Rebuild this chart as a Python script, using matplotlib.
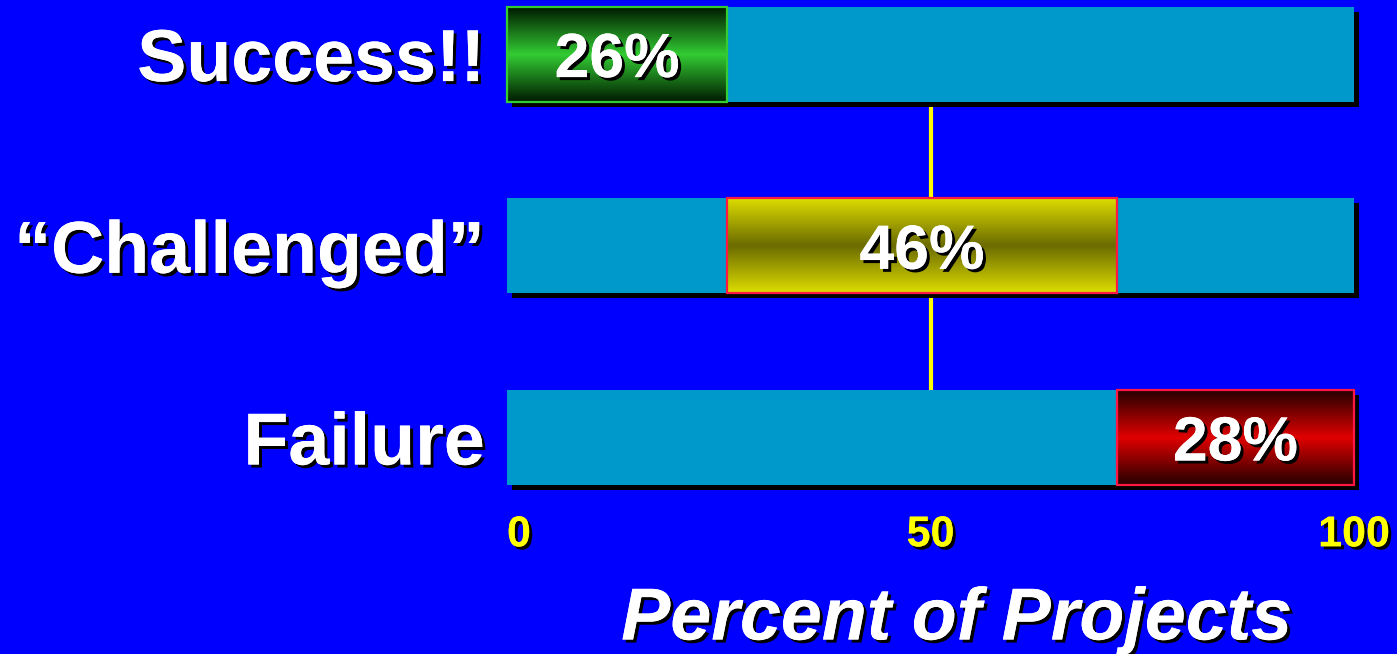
import numpy as np
import matplotlib
matplotlib.use("Agg")
import matplotlib.pyplot as plt
import matplotlib.patheffects as pe
from matplotlib import font_manager
from matplotlib.patches import Rectangle
from matplotlib.colors import LinearSegmentedColormap

# data
categories = ["Success!!", "\u201cChallenged\u201d", "Failure"]
values = [26, 46, 28]
tick_values = [0, 50, 100]
xlabel = "Percent of Projects"

# styles
bg = "#0000FF"
bar_bg = "#0099CC"
grad_colors = [("#001a00", "#33CC33"), ("#DDDD00", "#6B6B00"), ("#250000", "#E00000")]
edge_colors = ["#33CC33", "#FF1744", "#FF1744"]

plt.rcParams["font.family"] = ["Liberation Sans", "DejaVu Sans"]

# tick digits in the original are a narrow bold face
try:
    font_manager.findfont(font_manager.FontProperties(family="Liberation Sans Narrow", weight="bold"),
                          fallback_to_default=False)
    tick_family, tick_size = ["Liberation Sans Narrow", "Liberation Sans"], 36
except Exception:
    tick_family, tick_size = ["Liberation Sans", "DejaVu Sans"], 31

fig = plt.figure(figsize=(13.97, 6.54), dpi=100, facecolor=bg)
ax = fig.add_axes([507 / 1397, 154 / 654, 847 / 1397, 500 / 654])
ax.set_facecolor(bg)

text_shadow = [pe.withSimplePatchShadow(offset=(2.2, -2.2), shadow_rgbFace="black", alpha=1.0), pe.Normal()]
bar_shadow = [pe.withSimplePatchShadow(offset=(3.6, -3.6), shadow_rgbFace="black", alpha=1.0), pe.Normal()]

h = 0.495
ypos = np.arange(len(categories))

# yellow line at 50 behind the bars
ax.plot([50, 50], [ypos[0], ypos[-1]], color="#FFFF00", lw=3, zorder=1)

left = 0
for i, (cat, v) in enumerate(zip(categories, values)):
    y = ypos[i]
    # full background bar
    ax.barh(y, 100, height=h, color=bar_bg, zorder=2, path_effects=bar_shadow, clip_on=False)
    # gradient segment
    dark, mid = grad_colors[i]
    cmap = LinearSegmentedColormap.from_list("g%d" % i, [dark, mid, dark])
    grad = np.linspace(0, 1, 256).reshape(-1, 1)
    im = ax.imshow(grad, cmap=cmap, aspect="auto", interpolation="bilinear",
                   extent=[left, left + v, y + h / 2, y - h / 2], zorder=3)
    rect = Rectangle((left, y - h / 2), v, h, facecolor="none",
                     edgecolor=edge_colors[i], lw=1.6, zorder=4, clip_on=False)
    ax.add_patch(rect)
    im.set_clip_path(rect)
    ax.text(left + v / 2, y, f"{v}%", color="white", fontsize=45, fontweight="bold",
            ha="center", va="center_baseline", zorder=5, path_effects=text_shadow)
    left += v

ax.set_xlim(0, 100)
ax.set_ylim(2.326, -0.282)
ax.set_aspect("auto")

ax.set_yticks(ypos)
ax.set_yticklabels(categories, fontsize=53, fontweight="bold", color="white")
ax.tick_params(axis="y", length=0, pad=16)
for lbl in ax.get_yticklabels():
    lbl.set_path_effects(text_shadow)
    lbl.set_verticalalignment("center_baseline")

ax.set_xticks(tick_values)
ax.set_xticklabels([str(t) for t in tick_values], fontsize=tick_size, fontweight="bold",
                   color="#FFFF00", family=tick_family)
ax.tick_params(axis="x", length=0, pad=11)
for lbl in ax.get_xticklabels():
    lbl.set_path_effects(text_shadow)
ax.get_xticklabels()[0].set_horizontalalignment("left")

for s in ax.spines.values():
    s.set_visible(False)

fig.text(957 / 1397, 1 - 620 / 654, xlabel, color="white", fontsize=53, fontweight="bold",
         fontstyle="italic", ha="center", va="center", path_effects=text_shadow)

fig.savefig("out.png", dpi=100, facecolor=bg)
